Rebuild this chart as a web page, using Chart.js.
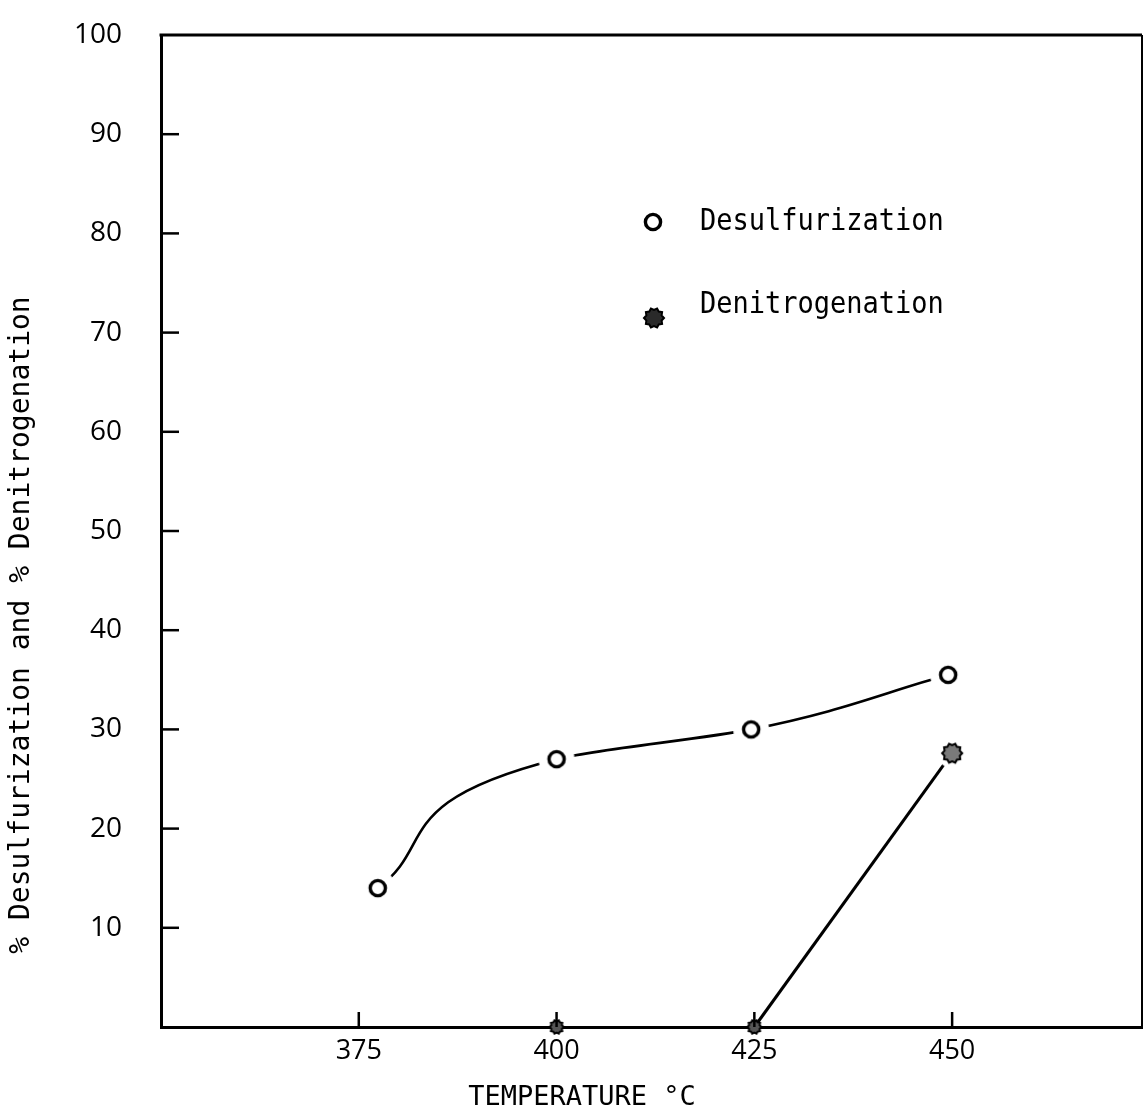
<!DOCTYPE html>
<html>
<head>
<meta charset="utf-8">
<title>Desulfurization and denitrogenation vs temperature</title>
<script src="https://cdn.jsdelivr.net/npm/chart.js@4/dist/chart.umd.min.js"></script>
<style>
    html, body { margin: 0; padding: 0; background: #fff; }
    .chart-box { width: 1146px; height: 1115px; }
</style>
</head>
<body>
<div class="chart-box">
    <canvas id="temperature-chart" width="1146" height="1115"></canvas>
</div>
<script>

// values
const desulfTemps = [377.4, 400, 424.6, 449.5];
const desulfurization = [14, 27, 30, 35.5];
const denitroTemps = [400, 425, 450];
const denitrogenation = [0, 0, 27.6];

const xTicks = [375, 400, 425, 450];
const yTicks = [10, 20, 30, 40, 50, 60, 70, 80, 90, 100];

const monoFont = '"DejaVu Sans Mono", "Liberation Mono", monospace';

// open ring, optional white halo so the curve stops short of the mark
function ringMarker(halo) {
    const c = document.createElement('canvas');
    c.width = c.height = 40;
    const g = c.getContext('2d');
    if (halo) {
        g.fillStyle = '#fff';
        g.beginPath();
        g.arc(20, 20, halo, 0, Math.PI * 2);
        g.fill();
    }
    g.lineWidth = 3.4;
    g.strokeStyle = '#000';
    g.fillStyle = '#fff';
    g.beginPath();
    g.arc(20, 20, 7.6, 0, Math.PI * 2);
    g.fill();
    g.stroke();
    return c;
}

// ragged filled blob
function blobMarker(halo, fill, size) {
    const c = document.createElement('canvas');
    c.width = c.height = 40;
    const g = c.getContext('2d');
    if (halo) {
        g.fillStyle = '#fff';
        g.beginPath();
        g.arc(20, 20, halo, 0, Math.PI * 2);
        g.fill();
    }
    g.beginPath();
    for (let i = 0; i < 20; i++) {
        const a = i / 20 * Math.PI * 2;
        const r = (i % 2) ? size * 0.8 : size;
        g.lineTo(20 + r * Math.cos(a), 20 + r * Math.sin(a));
    }
    g.closePath();
    g.fillStyle = fill;
    g.fill();
    g.lineWidth = 2;
    g.strokeStyle = '#000';
    g.stroke();
    return c;
}

const ringHalo = ringMarker(18),
    ringPlain = ringMarker(0),
    blobHalo = blobMarker(15, '#7a7a7a', 10),
    blobSmall = blobMarker(0, '#555', 7),
    blobLegend = blobMarker(0, '#2a2a2a', 10);

function drawText(ctx, text, x, y, opt) {
    ctx.save();
    ctx.translate(x, y);
    if (opt.rotate) ctx.rotate(opt.rotate);
    ctx.scale(opt.scaleX || 1, 1);
    ctx.font = opt.font;
    ctx.fillStyle = '#000';
    ctx.textAlign = opt.align || 'left';
    ctx.textBaseline = 'middle';
    ctx.fillText(text, 0, 0);
    ctx.restore();
}

// top/right frame, inward tick marks, axis titles and the legend
const framePlugin = {
    id: 'frame',
    afterDraw(chart, args, options) {
        const ctx = chart.ctx,
            area = chart.chartArea,
            xs = chart.scales.x,
            ys = chart.scales.y;

        ctx.save();
        ctx.strokeStyle = '#000';
        ctx.lineCap = 'butt';

        ctx.lineWidth = 3;
        ctx.beginPath();
        ctx.moveTo(area.left - 1.5, area.top);
        ctx.lineTo(area.right, area.top);
        ctx.stroke();

        ctx.lineWidth = 2;
        ctx.beginPath();
        ctx.moveTo(area.right, area.top);
        ctx.lineTo(area.right, area.bottom);
        ctx.stroke();

        ctx.lineWidth = 2.5;
        yTicks.slice(0, -1).forEach(v => {
            const y = ys.getPixelForValue(v);
            ctx.beginPath();
            ctx.moveTo(area.left, y);
            ctx.lineTo(area.left + 18, y);
            ctx.stroke();
        });
        xTicks.forEach(v => {
            const x = xs.getPixelForValue(v);
            ctx.beginPath();
            ctx.moveTo(x, area.bottom);
            ctx.lineTo(x, area.bottom - 15);
            ctx.stroke();
        });
        ctx.restore();

        drawText(ctx, options.yTitle, 22, 625, {
            font: '28px ' + monoFont, align: 'center', rotate: -Math.PI / 2
        });
        drawText(ctx, options.xTitle, 582, 1098, {
            font: '27px ' + monoFont, align: 'center'
        });

        // legend
        const ds = chart.data.datasets;
        ctx.drawImage(ringPlain, 653 - 20, 222 - 20);
        ctx.drawImage(blobLegend, 654 - 20, 318 - 20);
        drawText(ctx, ds[0].label, 700, 222, { font: '30px ' + monoFont, scaleX: 0.9 });
        drawText(ctx, ds[1].label, 700, 305, { font: '30px ' + monoFont, scaleX: 0.9 });
    }
};

const ctx = document.querySelector('#temperature-chart');

const chart = new Chart(ctx.getContext('2d'), {
    type: 'line',
    data: {
        datasets: [
            {
                label: 'Desulfurization',
                data: desulfTemps.map((t, i) => ({ x: t, y: desulfurization[i] })),
                indexAxis: 'y',
                borderColor: '#000',
                borderWidth: 2.6,
                cubicInterpolationMode: 'monotone',
                pointStyle: ringHalo,
                // image markers are drawn at their own size; keep the radius tiny
                // so the layout does not reserve room for them
                pointRadius: 1,
                pointBorderWidth: 0,
                clip: false,
            },
            {
                label: 'Denitrogenation',
                data: denitroTemps.map((t, i) => ({ x: t, y: denitrogenation[i] })),
                borderColor: '#000',
                borderWidth: 3,
                tension: 0,
                segment: {
                    borderColor: c => c.p0DataIndex === 0 ? 'rgba(0,0,0,0)' : '#000',
                },
                pointStyle: c => c.dataIndex === 2 ? blobHalo : blobSmall,
                pointRadius: 1,
                pointBorderWidth: 0,
                clip: false,
            },
        ]
    },
    options: {
        responsive: false,
        animation: false,
        events: [],
        layout: {
            padding: { top: 35, right: 0, left: 0, bottom: 0 }
        },
        scales: {
            x: {
                type: 'linear',
                min: 350,
                max: 474,
                afterBuildTicks: s => { s.ticks = xTicks.map(v => ({ value: v })); },
                afterFit: s => {
                    s.height = 88;
                    s.paddingLeft = 0;
                    s.paddingRight = 0;
                },
                grid: { drawOnChartArea: false, drawTicks: false },
                border: { color: '#000', width: 3 },
                ticks: {
                    color: '#000',
                    padding: 8,
                    font: { family: 'Open Sans', size: 27 },
                },
            },
            y: {
                type: 'linear',
                min: 0,
                max: 100,
                afterBuildTicks: s => { s.ticks = yTicks.map(v => ({ value: v })); },
                afterFit: s => {
                    s.width = 161;
                    s.paddingTop = 0;
                    s.paddingBottom = 0;
                },
                grid: { drawOnChartArea: false, drawTicks: false },
                border: { color: '#000', width: 3 },
                ticks: {
                    color: '#000',
                    padding: 39,
                    font: { family: 'Open Sans', size: 28 },
                },
            },
        },
        plugins: {
            legend: { display: false },
            tooltip: { enabled: false },
            frame: {
                xTitle: 'TEMPERATURE °C',
                yTitle: '% Desulfurization and % Denitrogenation',
            },
        }
    },
    plugins: [framePlugin]
});

</script>
</body>
</html>
